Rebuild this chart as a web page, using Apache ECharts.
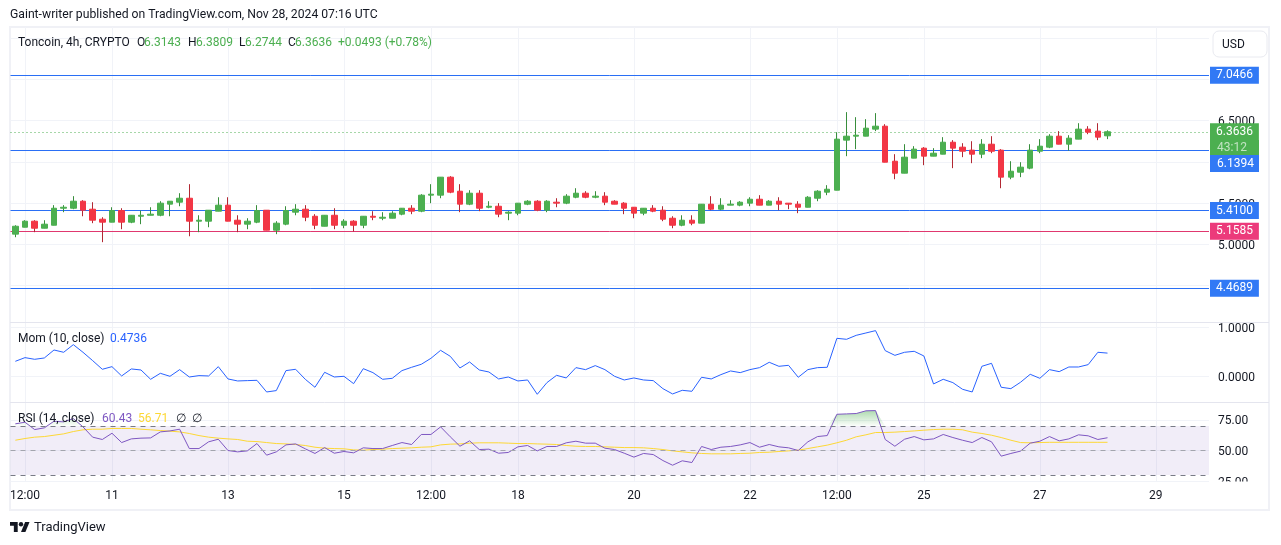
<!DOCTYPE html>
<html>
<head>
<meta charset="utf-8">
<title>Toncoin 4h</title>
<style>html,body{margin:0;padding:0;background:#fff}#main{width:1281px;height:545px}</style>
<script src="https://cdn.jsdelivr.net/npm/echarts@6/dist/echarts.min.js"></script>
</head>
<body>
<div id="main"></div>
<script>
let candleOpen = [
5.124,5.208,5.281,5.196,5.232,5.438,5.438,5.523,5.426,5.305,
5.269,5.410,5.269,5.341,5.353,5.353,5.487,5.511,5.559,5.281,
5.281,5.402,5.475,5.293,5.245,5.269,5.414,5.172,5.245,5.390,
5.426,5.341,5.220,5.353,5.232,5.281,5.232,5.341,5.317,5.317,
5.366,5.438,5.402,5.596,5.596,5.814,5.644,5.487,5.620,5.450,
5.462,5.378,5.378,5.487,5.523,5.414,5.511,5.499,5.571,5.620,
5.571,5.584,5.523,5.499,5.450,5.378,5.438,5.414,5.317,5.232,
5.293,5.257,5.487,5.426,5.475,5.475,5.499,5.547,5.475,5.523,
5.499,5.487,5.450,5.559,5.632,5.656,6.262,6.310,6.310,6.395,
6.431,6.007,5.862,6.044,6.165,6.068,6.092,6.237,6.177,6.141,
6.092,6.213,6.141,5.814,5.874,5.923,6.128,6.177,6.310,6.213,
6.274,6.395,6.371,6.3143]
let candleClose = [
5.220,5.281,5.196,5.245,5.438,5.450,5.523,5.414,5.293,5.269,
5.410,5.269,5.353,5.353,5.366,5.499,5.523,5.559,5.281,5.293,
5.414,5.475,5.281,5.245,5.281,5.410,5.172,5.257,5.410,5.426,
5.329,5.232,5.353,5.232,5.281,5.232,5.341,5.329,5.329,5.378,
5.438,5.402,5.596,5.608,5.814,5.632,5.487,5.620,5.438,5.462,
5.366,5.390,5.499,5.523,5.414,5.523,5.499,5.584,5.620,5.571,
5.584,5.511,5.487,5.438,5.378,5.438,5.402,5.305,5.232,5.293,
5.257,5.487,5.426,5.475,5.487,5.511,5.547,5.475,5.523,5.487,
5.487,5.450,5.571,5.644,5.668,6.274,6.310,6.322,6.407,6.431,
5.995,5.862,6.056,6.153,6.068,6.104,6.237,6.165,6.128,6.092,
6.213,6.128,5.814,5.886,5.935,6.141,6.189,6.310,6.213,6.286,
6.395,6.358,6.298,6.3636]
let candleHigh = [
5.232,5.293,5.293,5.293,5.475,5.475,5.584,5.535,5.511,5.329,
5.450,5.438,5.353,5.410,5.450,5.523,5.523,5.620,5.729,5.353,
5.414,5.571,5.571,5.353,5.317,5.475,5.414,5.281,5.462,5.487,
5.475,5.366,5.353,5.438,5.305,5.293,5.341,5.402,5.390,5.402,
5.438,5.475,5.608,5.729,5.814,5.826,5.729,5.656,5.656,5.523,
5.499,5.402,5.499,5.535,5.535,5.535,5.559,5.608,5.680,5.644,
5.644,5.632,5.535,5.511,5.450,5.438,5.475,5.462,5.341,5.353,
5.353,5.487,5.584,5.559,5.535,5.523,5.571,5.596,5.535,5.571,
5.499,5.523,5.584,5.656,5.717,6.358,6.601,6.540,6.516,6.589,
6.455,6.092,6.213,6.189,6.177,6.165,6.298,6.262,6.225,6.249,
6.274,6.310,6.153,6.007,5.995,6.213,6.274,6.334,6.371,6.322,
6.467,6.431,6.467,6.3809]
let candleLow = [
5.087,5.208,5.148,5.196,5.232,5.390,5.426,5.341,5.257,5.027,
5.269,5.184,5.257,5.245,5.353,5.341,5.341,5.462,5.099,5.148,
5.208,5.402,5.281,5.148,5.184,5.257,5.172,5.124,5.232,5.353,
5.281,5.184,5.220,5.184,5.196,5.156,5.196,5.293,5.293,5.317,
5.353,5.366,5.390,5.499,5.559,5.620,5.390,5.475,5.402,5.438,
5.329,5.293,5.353,5.475,5.402,5.390,5.450,5.487,5.559,5.559,
5.559,5.475,5.487,5.366,5.317,5.353,5.390,5.281,5.196,5.220,
5.232,5.257,5.414,5.414,5.475,5.462,5.462,5.475,5.475,5.414,
5.426,5.378,5.450,5.523,5.596,5.656,6.068,6.153,6.310,6.371,
5.995,5.789,5.862,6.044,5.959,6.068,6.092,5.923,6.056,5.983,
6.044,6.104,5.680,5.789,5.814,5.910,6.104,6.165,6.213,6.136,
6.274,6.334,6.262,6.2744]
let momValues = [
.306,.381,.347,.374,.537,.490,.646,.490,.320,.143,
.197,.007,.150,.129,-.061,.061,0,.136,-.014,.014,
.007,.197,-.054,-.095,-.088,-.082,-.320,-.292,.116,.143,
-.061,-.224,.082,-.014,0,-.150,.156,.075,-.061,-.041,
.116,.184,.245,.367,.530,.408,.170,.292,.129,.088,
-.054,-.014,-.095,-.075,-.367,-.129,.020,-.034,.177,.136,
.218,.136,0,-.075,-.034,-.075,-.088,-.252,-.360,-.286,
-.306,-.020,-.054,.034,.109,.075,.136,.177,.286,.204,
.224,-.020,.136,.177,.184,.775,.755,.836,.884,.932,
.524,.428,.490,.510,.415,-.156,-.061,-.129,-.265,-.320,
.204,.265,-.224,-.252,-.122,.041,-.041,.136,.095,.190,
.190,.238,.490,.4736]
let rsiValues = [
71.8,73.1,67.1,68.5,73.9,73.4,76.1,69.3,60.9,59.0,
64.1,56.5,59.5,60.1,60.3,65.2,66.0,67.4,51.6,51.6,
57.1,59.2,50.0,48.9,49.7,55.7,46.2,48.9,54.6,55.4,
51.4,47.6,52.4,47.8,49.2,48.1,52.2,51.6,51.6,54.1,
56.5,54.9,63.1,63.1,69.3,61.2,53.5,57.9,50.8,51.1,
47.8,48.4,53.0,54.1,49.7,53.3,53.3,56.3,57.6,56.0,
56.0,51.9,50.8,47.8,44.6,47.6,46.7,41.8,38.0,41.6,
40.2,53.3,50.8,52.7,53.3,54.6,56.5,52.7,54.9,53.0,
52.2,50.0,57.1,61.4,62.2,79.6,79.9,80.2,82.4,82.6,
59.0,53.5,59.2,61.4,58.7,59.5,63.1,60.6,58.4,56.5,
60.6,57.1,45.4,47.6,49.5,56.0,57.6,61.4,57.9,59.5,
62.8,62.0,59.0,60.43]
let rsiMaValues = [
58.4,59.8,60.9,61.4,62.5,63.6,65.5,66.9,67.4,67.4,
68.0,68.0,68.0,67.4,66.9,66.3,65.8,65.2,63.9,62.2,
60.9,60.1,59.5,59.0,57.6,57.3,56.5,55.7,55.4,54.9,
54.1,52.7,51.9,51.6,51.4,50.5,50.3,50.8,51.1,51.6,
51.9,52.2,52.7,53.0,54.6,55.2,55.4,56.0,56.3,56.3,
56.3,56.0,55.7,55.7,55.4,55.2,54.9,54.1,53.5,53.3,
53.3,53.0,52.7,52.4,52.4,52.2,51.6,50.8,49.7,48.9,
48.1,47.6,47.3,47.3,47.3,47.6,47.8,48.4,48.6,49.2,
49.7,50.3,51.6,53.0,54.4,56.3,58.4,61.2,62.8,64.7,
64.7,65.0,65.5,66.0,66.6,67.1,67.4,67.4,66.9,65.0,
63.9,62.5,60.6,58.4,56.5,56.3,56.5,56.7,56.7,56.7,
56.7,56.7,56.7,56.71]

// x axis: 124 bars of 4h, only the last 10 are empty
let barCount = 124
let tickIndex = [1,10,22,34,43,52,64,76,85,94,106,118]
let tickLabels = ['12:00','11','13','15','12:00','18','20','22','12:00','25','27','29']

let priceLines = [7.0466,6.1394,5.4100,4.4689]
let pinkLine = 5.1585
let lastPrice = 6.3636
let priceTicks = [4.5,5,5.5,6,6.5,7,7.5]
let priceLabels = [5,5.5,6.5]
let momTicks = [0,1]
let rsiTicks = [25,50,75]

let categories = []
for (let i = 0; i < barCount; i++) {
    let k = tickIndex.indexOf(i)
    categories.push(k >= 0 ? tickLabels[k] : '')
}
let candleFull = candleOpen.map((o, i) => [o, candleClose[i], candleLow[i], candleHigh[i]])
let candleBody = candleOpen.map((o, i) => [o, candleClose[i], Math.min(o, candleClose[i]), Math.max(o, candleClose[i])])
let rsiOver = rsiValues.map(v => Math.max(v, 70))

let FONT = 'Roboto, sans-serif'
let isTick = (i) => tickIndex.indexOf(i) >= 0
let gridLine = {color: '#f1f3f8', width: 1}

function makeXAxis(gridIndex, withLabels) {
    return {
        type: 'category',
        gridIndex: gridIndex,
        data: categories,
        axisLine: {show: false},
        axisTick: {show: false},
        axisLabel: {
            show: withLabels,
            interval: isTick,
            margin: 8,
            color: '#131722',
            fontSize: 12,
            fontFamily: FONT
        },
        splitLine: {show: true, interval: isTick, alignWithLabel: true, lineStyle: gridLine}
    }
}

function makeYAxis(gridIndex, min, max, ticks, labels, digits) {
    return {
        type: 'value',
        gridIndex: gridIndex,
        position: 'right',
        min: min,
        max: max,
        axisLine: {show: false},
        axisTick: {show: false, customValues: ticks},
        axisLabel: {
            customValues: labels,
            margin: 9,
            color: '#131722',
            fontSize: 12,
            fontFamily: FONT,
            formatter: (v) => '{v|' + v.toFixed(digits) + '}',
            rich: {v: {padding: [3, 0, 0, 0], color: '#131722', fontSize: 12, fontFamily: FONT}}
        },
        splitLine: {show: true, lineStyle: gridLine}
    }
}

function priceTag(value, color, tagColor, dash, noLabel) {
    return {
        yAxis: value,
        lineStyle: {color: color, width: 1, type: dash || 'solid'},
        label: {
            show: !noLabel,
            position: 'end',
            distance: 1,
            formatter: value.toFixed(4),
            color: '#fff',
            fontSize: 12,
            fontFamily: FONT,
            lineHeight: 13,
            backgroundColor: tagColor,
            padding: [4, 6, 0, 6]
        }
    }
}

// header pieces, x is where each one starts
function txt(x, y, text, color, size) {
    return {
        type: 'text', x: x, y: y, z: 10,
        style: {text: text, fill: color, font: (size || 12) + 'px ' + FONT, textVerticalAlign: 'middle'}
    }
}
let GREEN = '#4caf50'
let BLACK = '#131722'
let BLUE = '#2a6ff5'
let TAG_BLUE = '#3179f5'
let graphics = [
    {type: 'rect', z: 0, shape: {x: 10, y: 27, width: 1259, height: 483}, style: {fill: null, stroke: '#f0f1f6', lineWidth: 2}},
    {type: 'line', z: 0, shape: {x1: 10, y1: 322.5, x2: 1269, y2: 322.5}, style: {stroke: '#e4e5ee', lineWidth: 1}},
    {type: 'line', z: 0, shape: {x1: 10, y1: 402.5, x2: 1269, y2: 402.5}, style: {stroke: '#e4e5ee', lineWidth: 1}},
    {type: 'rect', z: 5, shape: {x: 1210, y: 481.5, width: 56, height: 27}, style: {fill: '#fff'}},
    // countdown under the last price tag, and the 6.1394 tag pushed down below it
    {type: 'rect', z: 10, shape: {x: 1210, y: 140, width: 49, height: 15}, style: {fill: GREEN}},
    txt(1217, 148, '43:12', 'rgba(255,255,255,0.65)'),
    {type: 'rect', z: 10, shape: {x: 1210, y: 155, width: 49, height: 17}, style: {fill: TAG_BLUE}},
    txt(1217, 164, priceLines[1].toFixed(4), '#fff'),
    {type: 'rect', z: 10, shape: {x: 1213, y: 31, width: 54, height: 26, r: 6}, style: {fill: '#fff', stroke: '#e9eaf0', lineWidth: 1}},
    txt(1222, 45, 'USD', BLACK),
    txt(10, 15, 'Gaint-writer published on TradingView.com, Nov 28, 2024 07:16 UTC', BLACK, 12.2),
    txt(18, 42.5, 'Toncoin, 4h, CRYPTO', BLACK),
    txt(137, 42.5, 'O', BLACK), txt(144, 42.5, '6.3143', GREEN),
    txt(188, 42.5, 'H', BLACK), txt(196, 42.5, '6.3809', GREEN),
    txt(239, 42.5, 'L', BLACK), txt(245, 42.5, '6.2744', GREEN),
    txt(288, 42.5, 'C', BLACK), txt(295, 42.5, '6.3636', GREEN),
    txt(338, 42.5, '+0.0493 (+0.78%)', GREEN),
    txt(18, 339, 'Mom (10, close)', BLACK), txt(110, 339, '0.4736', '#2962ff'),
    txt(18, 419, 'RSI (14, close)', BLACK), txt(102, 419, '60.43', '#7e57c2'),
    txt(138, 419, '56.71', '#fdd835'), txt(176, 419, '∅', BLACK), txt(192, 419, '∅', BLACK),
    {
        // TradingView mark
        type: 'group', x: 10, y: 519.8, scaleX: 0.55, scaleY: 0.55, z: 10,
        children: [
            {type: 'polygon', shape: {points: [[0, 4], [14, 4], [14, 22], [7, 22], [7, 11], [0, 11]]}, style: {fill: BLACK}},
            {type: 'polygon', shape: {points: [[27.5, 4], [35.5, 4], [28, 22], [20, 22]]}, style: {fill: BLACK}},
            {type: 'circle', shape: {cx: 20, cy: 8, r: 4}, style: {fill: BLACK}}
        ]
    },
    txt(34, 528, 'TradingView', BLACK, 13)
]

let option = {
    animation: false,
    backgroundColor: '#fff',
    grid: [
        {left: 10.5, width: 1198.5, top: 27, height: 295},
        {left: 10.5, width: 1198.5, top: 323, height: 79},
        {left: 10.5, width: 1198.5, top: 403, height: 78.5}
    ],
    xAxis: [makeXAxis(0, false), makeXAxis(1, false), makeXAxis(2, true)],
    yAxis: [
        makeYAxis(0, 4.061, 7.6314, priceTicks, priceLabels, 4),
        makeYAxis(1, -0.5245, 1.0878, momTicks, momTicks, 4),
        makeYAxis(2, 24.7, 88.8, rsiTicks, rsiTicks, 2)
    ],
    series: [
        {
            // wicks plus the levels, bodies go on top of these
            type: 'candlestick',
            data: candleFull,
            barWidth: 1,
            itemStyle: {color: '#388e3c', color0: '#b22833', borderColor: '#388e3c', borderColor0: '#b22833', borderWidth: 1},
            markLine: {
                silent: true,
                z: 1,
                symbol: 'none',
                precision: 4,
                data: [
                    priceTag(priceLines[0], BLUE, TAG_BLUE),
                    priceTag(lastPrice, GREEN, GREEN, [1, 3]),
                    priceTag(priceLines[1], BLUE, TAG_BLUE, null, true),
                    priceTag(priceLines[2], BLUE, TAG_BLUE),
                    priceTag(pinkLine, '#e0386f', '#ec3a7b'),
                    priceTag(priceLines[3], BLUE, TAG_BLUE)
                ]
            }
        },
        {
            type: 'candlestick',
            data: candleBody,
            barWidth: 6,
            itemStyle: {color: GREEN, color0: '#f23645', borderColor: GREEN, borderColor0: '#f23645', borderWidth: 1}
        },
        {
            type: 'line',
            xAxisIndex: 1,
            yAxisIndex: 1,
            data: momValues,
            symbol: 'none',
            lineStyle: {color: '#2962ff', width: 1}
        },
        {
            // green part above the 70 line
            type: 'line',
            xAxisIndex: 2,
            yAxisIndex: 2,
            data: rsiOver,
            symbol: 'none',
            lineStyle: {opacity: 0},
            areaStyle: {
                origin: 70,
                opacity: 1,
                color: new echarts.graphic.LinearGradient(0, 0, 0, 1, [
                    {offset: 0, color: 'rgba(76,175,80,0.45)'},
                    {offset: 1, color: 'rgba(76,175,80,0.02)'}
                ])
            },
            markArea: {
                silent: true,
                itemStyle: {color: 'rgba(126,87,194,0.11)'},
                data: [[{yAxis: 70}, {yAxis: 30}]]
            },
            markLine: {
                silent: true,
                symbol: 'none',
                label: {show: false},
                lineStyle: {color: '#787b86', type: [5, 5], width: 1},
                data: [{yAxis: 70}, {yAxis: 50, lineStyle: {color: '#a3a5ad', type: [5, 5]}}, {yAxis: 30}]
            }
        },
        {
            type: 'line',
            xAxisIndex: 2,
            yAxisIndex: 2,
            data: rsiMaValues,
            symbol: 'none',
            lineStyle: {color: '#fdd835', width: 1}
        },
        {
            type: 'line',
            xAxisIndex: 2,
            yAxisIndex: 2,
            data: rsiValues,
            symbol: 'none',
            lineStyle: {color: '#7e57c2', width: 1}
        }
    ],
    graphic: graphics
}

let myChart = echarts.init(document.getElementById('main'))
myChart.setOption(option)
</script>
</body>
</html>
